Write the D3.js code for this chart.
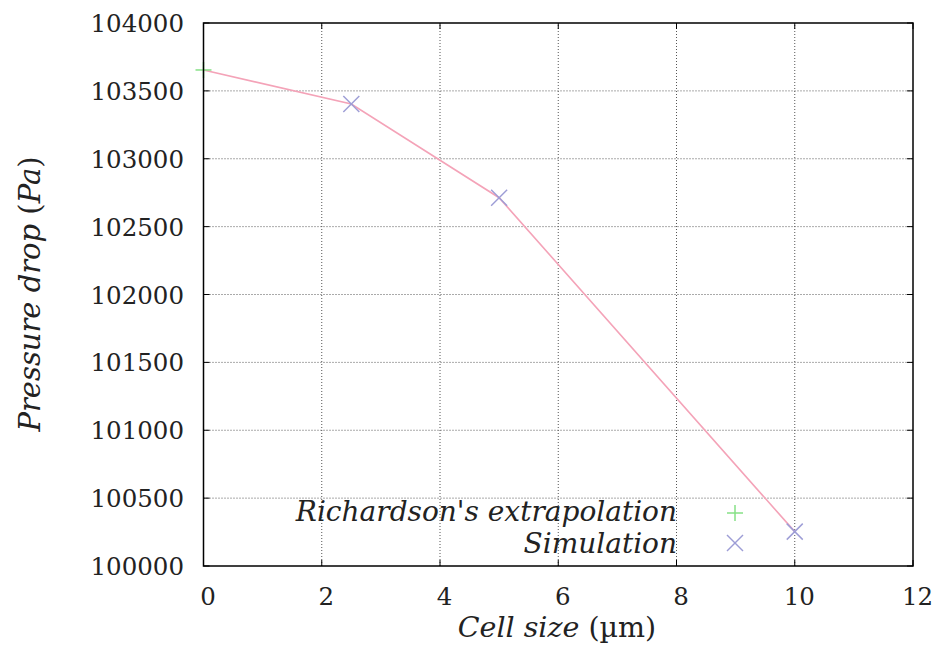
<!DOCTYPE html>
<html>
<head>
<meta charset="utf-8">
<script src="https://cdn.jsdelivr.net/npm/d3@7"></script>
<style>
  html, body { margin: 0; padding: 0; background: #fff; }
  svg { display: block; }
</style>
</head>
<body>
<svg id="chart" width="938" height="656"></svg>
<script>
// Pressure drop vs. mesh cell size
const richardsonX = [0];
const richardsonY = [103654];
const simX = [2.5, 5, 10];
const simY = [103403, 102713, 100253];
const xTicks = [0, 2, 4, 6, 8, 10, 12];
const yTicks = [100000, 100500, 101000, 101500, 102000, 102500, 103000, 103500, 104000];

const SERIF = "'DejaVu Serif', serif";

const svg = d3.select("#chart");
const W = 938, H = 656;
svg.append("rect").attr("width", W).attr("height", H).attr("fill", "#fff");

const x = d3.scaleLinear().domain([0, 12]).range([203.5, 913]);
const y = d3.scaleLinear().domain([100000, 104000]).range([566, 23]);

const FS = 24.5;      // tick numbers
const FS_IT = 28;     // italic labels

// dotted grid
const grid = svg.append("g").attr("stroke", "#555").attr("stroke-width", 1)
  .attr("stroke-dasharray", "1,2").attr("fill", "none");
xTicks.filter(t => t > 0 && t < 12).forEach(t => {
  grid.append("line").attr("x1", x(t)).attr("x2", x(t)).attr("y1", y(100000)).attr("y2", y(104000));
});
yTicks.filter(t => t > 100000 && t < 104000).forEach(t => {
  grid.append("line").attr("x1", x(0)).attr("x2", x(12)).attr("y1", y(t)).attr("y2", y(t));
});

// inward tick marks on all four sides
const ticks = svg.append("g").attr("stroke", "#000").attr("stroke-width", 1);
const TL = 6;
xTicks.forEach(t => {
  ticks.append("line").attr("x1", x(t)).attr("x2", x(t)).attr("y1", y(100000)).attr("y2", y(100000) - TL);
  ticks.append("line").attr("x1", x(t)).attr("x2", x(t)).attr("y1", y(104000)).attr("y2", y(104000) + TL);
});
yTicks.forEach(t => {
  ticks.append("line").attr("x1", x(0)).attr("x2", x(0) + TL).attr("y1", y(t)).attr("y2", y(t));
  ticks.append("line").attr("x1", x(12)).attr("x2", x(12) - TL).attr("y1", y(t)).attr("y2", y(t));
});

// tick labels
svg.append("g").selectAll("text").data(xTicks).join("text")
  .attr("x", d => x(d) + 4.5).attr("y", 605)
  .attr("text-anchor", "middle").attr("font-size", FS)
  .attr("font-family", SERIF).attr("fill", "#222")
  .text(d => d);
svg.append("g").selectAll("text").data(yTicks).join("text")
  .attr("x", 184).attr("y", d => y(d) + 9)
  .attr("text-anchor", "end").attr("font-size", FS)
  .attr("font-family", SERIF).attr("fill", "#222")
  .text(d => d);

// connecting line through extrapolated value and simulation results
const lineData = richardsonX.map((v, i) => [v, richardsonY[i]])
  .concat(simX.map((v, i) => [v, simY[i]]));
svg.append("path")
  .datum(lineData)
  .attr("fill", "none").attr("stroke", "#f4a3b8").attr("stroke-width", 1.6)
  .attr("d", d3.line().x(d => x(d[0])).y(d => y(d[1])));

// markers
const plusMark = (g, cx, cy, r) => {
  g.append("line").attr("x1", cx - r).attr("x2", cx + r).attr("y1", cy).attr("y2", cy);
  g.append("line").attr("x1", cx).attr("x2", cx).attr("y1", cy - r).attr("y2", cy + r);
};
const crossMark = (g, cx, cy, r) => {
  g.append("line").attr("x1", cx - r).attr("x2", cx + r).attr("y1", cy - r).attr("y2", cy + r);
  g.append("line").attr("x1", cx - r).attr("x2", cx + r).attr("y1", cy + r).attr("y2", cy - r);
};
const green = svg.append("g").attr("stroke", "#86e086").attr("stroke-width", 1.5);
richardsonX.forEach((v, i) => plusMark(green, x(v), y(richardsonY[i]), 8));
const blue = svg.append("g").attr("stroke", "#9d9dd6").attr("stroke-width", 1.5);
simX.forEach((v, i) => crossMark(blue, x(v), y(simY[i]), 8));

// frame
svg.append("rect")
  .attr("x", x(0)).attr("y", y(104000))
  .attr("width", x(12) - x(0)).attr("height", y(100000) - y(104000))
  .attr("fill", "none").attr("stroke", "#000").attr("stroke-width", 1.5);

// legend
const legX = 677;
const legText = (yy, s) => svg.append("text").attr("x", legX).attr("y", yy)
  .attr("text-anchor", "end").attr("font-size", FS_IT).attr("font-style", "italic")
  .attr("font-family", SERIF).attr("fill", "#222").text(s);
legText(521, "Richardson's extrapolation");
legText(553, "Simulation");
plusMark(green, 735, 513, 8);
crossMark(blue, 735, 543, 8);

// axis titles
const xt = svg.append("text").attr("x", 557).attr("y", 637)
  .attr("text-anchor", "middle").attr("font-size", 28.5)
  .attr("font-family", SERIF).attr("fill", "#222");
xt.append("tspan").attr("font-style", "italic").text("Cell size ");
xt.append("tspan").text("(µm)");

const yt = svg.append("text")
  .attr("transform", "translate(40,294) rotate(-90)")
  .attr("text-anchor", "middle").attr("font-size", 29)
  .attr("font-family", SERIF).attr("fill", "#222");
yt.append("tspan").attr("font-style", "italic").text("Pressure drop ");
yt.append("tspan").text("(");
yt.append("tspan").attr("font-style", "italic").text("Pa");
yt.append("tspan").text(")");
</script>
</body>
</html>
